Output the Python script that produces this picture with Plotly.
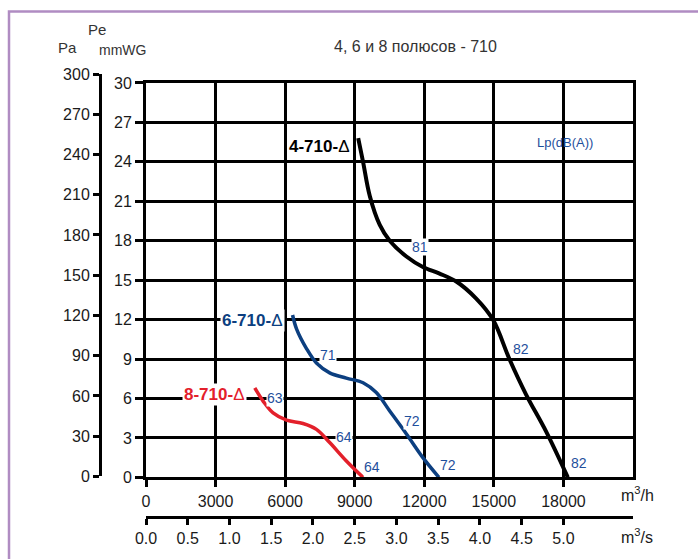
import plotly.graph_objects as go

# ---------------- data ----------------
flow_ticks_m3h = [0, 3000, 6000, 9000, 12000, 15000, 18000]
flow_ticks_m3s = [0.0, 0.5, 1.0, 1.5, 2.0, 2.5, 3.0, 3.5, 4.0, 4.5, 5.0]
pa_ticks = [0, 30, 60, 90, 120, 150, 180, 210, 240, 270, 300]
mmwg_ticks = [0, 3, 6, 9, 12, 15, 18, 21, 24, 27, 30]

# 4-710 (black)
q4 = [9150, 9360, 9650, 10080, 10510, 11230, 11940, 12660, 13380, 14240, 14960, 15670, 16390, 17250, 18190]
p4 = [25.8, 24.0, 21.4, 19.2, 18.0, 16.8, 16.0, 15.5, 14.9, 13.6, 12.0, 9.0, 6.3, 3.5, 0.0]
# 6-710 (blue)
q6 = [6320, 6490, 6920, 7350, 7920, 8640, 9360, 9930, 10510, 11230, 11940, 12630]
p6 = [12.35, 11.3, 9.8, 8.7, 7.95, 7.55, 7.2, 6.45, 5.05, 3.3, 1.5, 0.0]
# 8-710 (red)
q8 = [4690, 5050, 5480, 6060, 6770, 7350, 7920, 8640, 9360]
p8 = [6.8, 5.8, 4.9, 4.35, 4.1, 3.65, 2.65, 1.25, 0.0]

# noise level labels (text, flow, pressure)
lp_text = ["81", "82", "82", "71", "72", "72", "63", "64", "64"]
lp_q = [11800, 16180, 18660, 7850, 11480, 13020, 5560, 8530, 9760]
lp_p = [17.5, 9.8, 1.1, 9.3, 4.3, 0.95, 6.05, 3.05, 0.8]

curve_names = ["4-710-", "6-710-", "8-710-"]
curve_q = [8870, 5985, 4340]
curve_p = [25.2, 11.9, 6.3]

# ---------------- geometry ----------------
W, H = 698, 559
ML, MR, MT, MB = 60, 65, 74, 20
PW, PH = W - ML - MR, H - MT - MB


def px(x):
    return (x - ML) / PW


def py(y):
    return (H - MB - y) / PH


BLACK = "#000000"
BLUE = "#0c3f80"
RED = "#e3202b"
LBLUE = "#1f4f9c"
FONT = "Liberation Sans, Arial, sans-serif"

fig = go.Figure()
# carrier trace for the secondary (m3/s, Pa) axes (added first so the main subplot is on top)
fig.add_trace(go.Scatter(x=[None], y=[None], xaxis="x2", yaxis="y2", showlegend=False, hoverinfo="skip"))
fig.add_trace(go.Scatter(x=q4, y=p4, mode="lines", line=dict(color=BLACK, width=4, shape="spline", smoothing=1.0),
                         xaxis="x", yaxis="y", showlegend=False, hoverinfo="skip"))
fig.add_trace(go.Scatter(x=q6, y=p6, mode="lines", line=dict(color=BLUE, width=3.5, shape="spline", smoothing=1.0),
                         xaxis="x", yaxis="y", showlegend=False, hoverinfo="skip"))
fig.add_trace(go.Scatter(x=q8, y=p8, mode="lines", line=dict(color=RED, width=3.5, shape="spline", smoothing=1.0),
                         xaxis="x", yaxis="y", showlegend=False, hoverinfo="skip"))

xdom = [px(146), 1.0]
tickfont = dict(family=FONT, size=16, color="#1a1a1a")

fig.update_layout(
    width=W, height=H,
    margin=dict(l=ML, r=MR, t=MT, b=MB),
    paper_bgcolor="white", plot_bgcolor="rgba(0,0,0,0)",
    font=dict(family=FONT, color="#1a1a1a"),
    showlegend=False,
    xaxis=dict(domain=xdom, range=[0, 21000], tickvals=flow_ticks_m3h,
               ticktext=[str(v) for v in flow_ticks_m3h], ticks="outside", ticklen=7, tickwidth=3,
               tickcolor=BLACK, showline=True, linewidth=3, linecolor=BLACK, mirror=True,
               showgrid=True, gridcolor=BLACK, gridwidth=2.8, zeroline=False, tickfont=tickfont,
               anchor="y", fixedrange=True),
    yaxis=dict(domain=[py(480), py(83)], range=[0, 30], tickvals=mmwg_ticks,
               ticks="outside", ticklen=8, tickwidth=3, tickcolor=BLACK,
               showline=True, linewidth=3, linecolor=BLACK, mirror=True,
               showgrid=True, gridcolor=BLACK, gridwidth=2.8, zeroline=False, tickfont=tickfont,
               anchor="x", fixedrange=True),
    xaxis2=dict(domain=xdom, range=[0, 21000 / 3600], tickvals=flow_ticks_m3s,
                ticktext=["%.1f" % v for v in flow_ticks_m3s], ticks="outside", ticklen=6, tickwidth=3,
                tickcolor=BLACK, showline=True, linewidth=3, linecolor=BLACK, showgrid=False,
                zeroline=False, tickfont=tickfont, anchor="free", position=py(520), side="bottom",
                fixedrange=True),
    yaxis2=dict(domain=[py(479), 1.0], range=[0, 300], tickvals=pa_ticks,
                ticks="outside", ticklen=6, tickwidth=3, tickcolor=BLACK,
                showline=True, linewidth=3, linecolor=BLACK, showgrid=False, zeroline=False,
                tickfont=tickfont, anchor="free", position=px(100), side="left", fixedrange=True),
)

C = dict(xanchor="center", yanchor="middle", showarrow=False, xref="paper", yref="paper")
ann = []
# header texts
ann.append(dict(C, x=px(415), y=py(46), text="4, 6 и 8 полюсов - 710",
                font=dict(size=16, color="#333333")))
ann.append(dict(C, x=px(67), y=py(47), text="Pa", font=dict(size=15, color="#333333")))
ann.append(dict(C, x=px(97), y=py(29), text="Pe", font=dict(size=15, color="#333333")))
ann.append(dict(C, x=px(122), y=py(50), text="mmWG", font=dict(size=14, color="#333333")))
ann.append(dict(C, x=px(619), y=py(497), text="m<sup>3</sup>/h", xanchor="left",
                font=dict(size=16, color="#1a1a1a")))
ann.append(dict(C, x=px(619), y=py(539), text="m<sup>3</sup>/s", xanchor="left",
                font=dict(size=16, color="#1a1a1a")))
ann.append(dict(x=18050, y=25.5, xref="x", yref="y", text="Lp(dB(A))", showarrow=False,
                xanchor="center", yanchor="middle", font=dict(size=13, color=LBLUE)))
# noise labels
for t, qx, pv in zip(lp_text, lp_q, lp_p):
    ann.append(dict(x=qx, y=pv, xref="x", yref="y", text=t, showarrow=False,
                    xanchor="center", yanchor="middle",
                    font=dict(size=14, color=LBLUE), bgcolor="white", borderpad=0))
# curve names
for name, qx, pv, col in zip(curve_names, curve_q, curve_p, [BLACK, BLUE, RED]):
    ann.append(dict(x=qx, y=pv, xref="x", yref="y", text="<b>" + name + "</b>Δ", showarrow=False,
                    xanchor="right", yanchor="middle",
                    font=dict(size=17, color=col), bgcolor="white", borderpad=1))
fig.update_layout(annotations=ann)

# purple frame
fig.add_shape(type="path", xref="paper", yref="paper",
              path="M %f,%f L %f,%f L %f,%f" % (px(9), py(565), px(9), py(11), px(710), py(11)),
              line=dict(color="#b08cc2", width=2.5), layer="above")

fig.write_html("out.html")
